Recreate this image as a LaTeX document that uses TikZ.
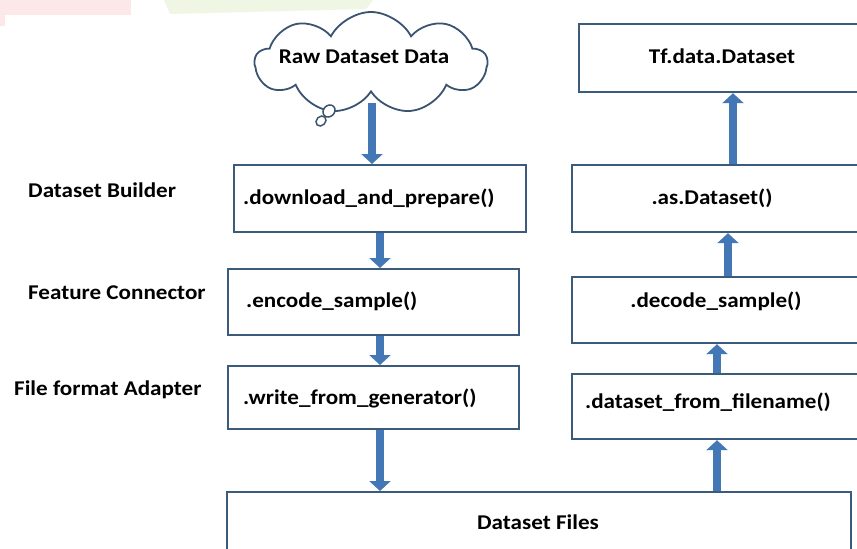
\documentclass[tikz,border=0pt]{standalone}
\usepackage{fontspec}
\setmainfont{Carlito}[FakeStretch=1.1]
\usetikzlibrary{shapes.symbols,arrows.meta}

\definecolor{edge}{HTML}{3B5B7D}
\definecolor{flow}{HTML}{4477B5}
\definecolor{cloudline}{HTML}{3A5470}
\definecolor{pinkmark}{HTML}{FCE8E8}
\definecolor{greenmark}{HTML}{EFF7E4}

\tikzset{
  every node/.style={font=\fontsize{21}{24}\selectfont\bfseries, inner sep=0pt},
  box/.style={draw=edge, line width=2.2pt, fill=white, rectangle, anchor=north west},
  lbl/.style={anchor=west},
  fat/.style={draw=flow, line width=7.5pt, -{Triangle[width=21pt,length=10pt]}},
}

\begin{document}
\begin{tikzpicture}[x=1pt,y=-1pt]
  \useasboundingbox (0,0) rectangle (857,549);
  \fill[white] (0,0) rectangle (857,549);

  % faint marks along the top edge
  \fill[pinkmark] (0,0) rectangle (131,15);
  \fill[pinkmark] (0,0) rectangle (5,26);
  \fill[greenmark] (164,0) -- (373,0) -- (366,9) -- (170,14) -- cycle;

  % column positions of the flow arrows
  \coordinate (cB) at (380,0);
  \coordinate (cC) at (717,0);
  \coordinate (cD) at (728,0);
  \coordinate (cE) at (733,0);

  % source cloud
  \node[cloud, cloud puffs=9, cloud puff arc=125, aspect=2.3,
        draw=cloudline, line width=1.8pt, fill=white,
        minimum width=232pt, minimum height=102pt] (raw) at (371,63) {};
  \node (rawT) at (364,57) {Raw Dataset Data};
  \coordinate (rawBase) at (372,103);
  \draw[cloudline, line width=1.5pt, fill=white, rotate around={45:(329,111)}] (329,111) ellipse (6.5 and 5.5);
  \draw[cloudline, line width=1.5pt, fill=white, rotate around={45:(321,121)}] (321,121) ellipse (5.5 and 4.5);

  % left (write) column
  \node[box, minimum width=292pt, minimum height=67pt] (dl)  at (233,164) {};
  \node[box, minimum width=291pt, minimum height=66pt] (enc) at (227,268) {};
  \node[box, minimum width=291pt, minimum height=63pt] (wr)  at (227,365) {};
  \node[lbl] (dlT)  at (243,198) {.download\_and\_prepare()};
  \node[lbl] (encT) at (246,301) {.encode\_sample()};
  \node[lbl] (wrT)  at (243,398) {.write\_from\_generator()};

  % shared files box
  \node[box, minimum width=624pt, minimum height=80pt] (files) at (226,491) {};
  \node (filesT) at (538,522) {Dataset Files};

  % right (read) column
  \node[box, minimum width=300pt, minimum height=68pt] (tf)  at (578,23)  {};
  \node[box, minimum width=300pt, minimum height=67pt] (as)  at (571,164) {};
  \node[box, minimum width=300pt, minimum height=66pt] (dec) at (571,276) {};
  \node[box, minimum width=300pt, minimum height=65pt] (fn)  at (571,373) {};
  \node (tfT)  at (722,56)  {Tf.data.Dataset};
  \node (asT)  at (712,198) {.as.Dataset()};
  \node (decT) at (716,301) {.decode\_sample()};
  \node (fnT)  at (708,402) {.dataset\_from\_filename()};

  % stage labels
  \node[lbl] (builder) at (28,190) {Dataset Builder};
  \node[lbl] (feature) at (28,293) {Feature Connector};
  \node[lbl] (adapter) at (14,390) {File format Adapter};

  % flow arrows
  \draw[fat] (rawBase) -- (dl.north -| rawBase);
  \draw[fat] (dl.south -| cB)  -- (enc.north -| cB);
  \draw[fat] (enc.south -| cB) -- (wr.north -| cB);
  \draw[fat] (wr.south -| cB)  -- (files.north -| cB);
  \draw[fat] (files.north -| cC) -- (fn.south -| cC);
  \draw[fat] (fn.north -| cC)  -- (dec.south -| cC);
  \draw[fat] (dec.north -| cD) -- (as.south -| cD);
  \draw[fat] (as.north -| cE)  -- (tf.south -| cE);
\end{tikzpicture}
\end{document}
